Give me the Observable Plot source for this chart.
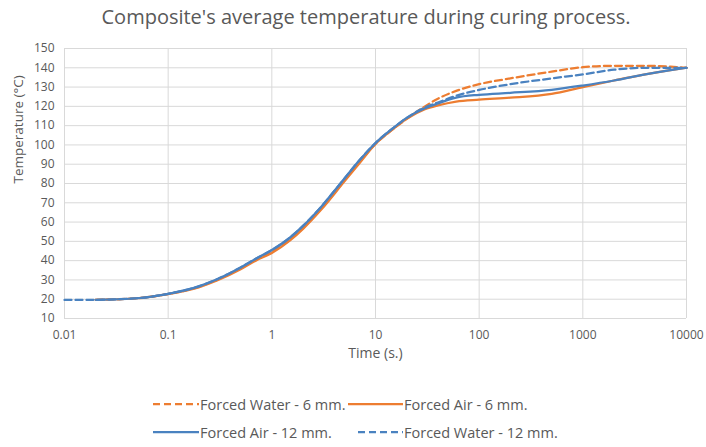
<!DOCTYPE html>
<html>
<head>
<meta charset="utf-8">
<script src="https://cdn.jsdelivr.net/npm/d3@7"></script>
<script src="https://cdn.jsdelivr.net/npm/@observablehq/plot@0.6"></script>
<style>
  body { margin: 0; background: #fff; font-family: "Open Sans", sans-serif; }
  #wrap { position: relative; width: 706px; height: 447px; overflow: hidden; }
  #title { position: absolute; top: 3px; left: 0; width: 732px; text-align: center; font-size: 20px; color: #595959; }
  #chart { position: absolute; top: 36px; left: 0; }
  .leg { position: absolute; font-size: 14.5px; color: #595959; display: flex; align-items: center; white-space: nowrap; }
  .leg svg { margin-right: 1px; }
</style>
</head>
<body>
<div id="wrap">
  <div id="title">Composite's average temperature during curing process.</div>
  <div id="chart"></div>
</div>
<script>
// ---- data ----
const time = [0.01, 0.02, 0.05, 0.1, 0.2, 0.3, 0.5, 0.7, 1, 1.5, 2, 3, 5, 7, 10, 15, 20, 30, 40, 60, 100, 200, 500, 1000, 2000, 4000, 7000, 10000];
const waterSix   = [null, 19.7, 20.5, 22.7, 26.5, 30.2, 36, 40.5, 44.5, 51, 57, 67, 81.5, 91, 100.5, 108.5, 113.5, 120, 124, 128, 131.5, 134.5, 138, 140.3, 141, 141, 140.6, 140];
const airSix     = [null, 19.7, 20.5, 22.6, 26.3, 29.8, 35.5, 40, 44, 50.5, 56.5, 66.5, 81, 90.5, 100.5, 108.5, 113.5, 118.5, 120.5, 122.5, 123.5, 124.5, 126.5, 130, 133.4, 136.6, 138.8, 140];
const airTwelve  = [null, 19.7, 20.5, 22.8, 26.8, 30.5, 36.5, 41, 45.5, 52, 58, 68, 82.5, 92, 101, 109, 114, 119, 121.5, 124.5, 126, 127, 128.6, 130.8, 133.4, 136.6, 138.8, 140];
const waterTwelve= [19.6, 19.7, 20.5, 22.8, 26.8, 30.5, 36.5, 41, 45.5, 52, 58, 68, 82.5, 92, 101, 109, 114, 119.5, 122, 125.5, 128.5, 131.5, 134.5, 136.6, 139, 140, 140, 140];
const seriesNames = ["Forced Water - 6 mm.", "Forced Air - 6 mm.", "Forced Air - 12 mm.", "Forced Water - 12 mm."];
const xTicks = [0.01, 0.1, 1, 10, 100, 1000, 10000];
const xTickLabels = ["0.01", "0.1", "1", "10", "100", "1000", "10000"];
const yTicks = [10, 20, 30, 40, 50, 60, 70, 80, 90, 100, 110, 120, 130, 140, 150];
const title = "Composite's average temperature during curing process.";
const xLabel = "Time (s.)";
const yLabel = "Temperature (°C)";

// ---- styles ----
const ORANGE = "#ED7D31";
const BLUE = "#4A82C0";
const styles = [
  {color: ORANGE, dash: "7,4"},
  {color: ORANGE, dash: null},
  {color: BLUE, dash: null},
  {color: BLUE, dash: "7,4"}
];
const valueSets = [waterSix, airSix, airTwelve, waterTwelve];

const rows = valueSets.map(vals => time.map((t, i) => ({t, T: vals[i]})).filter(d => d.T != null));

const lineMarks = rows.map((data, k) => Plot.line(data, {
  x: "t", y: "T", stroke: styles[k].color, strokeWidth: 2.25,
  strokeDasharray: styles[k].dash || undefined, curve: "monotone-x"
}));

const chart = Plot.plot({
  width: 706,
  height: 340,
  marginLeft: 64,
  marginRight: 20,
  marginTop: 12,
  marginBottom: 58,
  style: {fontFamily: "Open Sans, sans-serif", fontSize: "12px", color: "#595959", background: "#fff"},
  x: {type: "log", domain: [0.01, 10000]},
  y: {domain: [10, 150]},
  marks: [
    Plot.gridX(xTicks, {stroke: "#d9d9d9", strokeOpacity: 1, strokeWidth: 1}),
    Plot.gridY(yTicks, {stroke: "#d9d9d9", strokeOpacity: 1, strokeWidth: 1}),
    Plot.axisX(xTicks, {tickSize: 0, tickPadding: 12, tickFormat: (d) => xTickLabels[xTicks.indexOf(d)], label: null, fill: "#595959"}),
    Plot.axisY(yTicks, {tickSize: 0, tickPadding: 10, label: null, fill: "#595959"}),
    ...lineMarks,
    Plot.text([xLabel], {frameAnchor: "bottom", dy: 39, text: d => d, fontSize: 14, fill: "#595959"}),
    Plot.text([yLabel], {frameAnchor: "left", dx: -46, rotate: -90, text: d => d, fontSize: 13.5, fill: "#595959"})
  ]
});
document.getElementById("chart").appendChild(chart);

// ---- legend ----
const legendPos = [
  {x: 153, y: 404, w: 46},
  {x: 348, y: 404, w: 55},
  {x: 153, y: 432, w: 46},
  {x: 358, y: 432, w: 45}
];
const wrap = document.getElementById("wrap");
seriesNames.forEach((name, k) => {
  const p = legendPos[k];
  const div = document.createElement("div");
  div.className = "leg";
  div.style.left = p.x + "px";
  div.style.top = (p.y - 11) + "px";
  div.style.height = "22px";
  const dash = styles[k].dash ? `stroke-dasharray="${styles[k].dash}"` : "";
  div.innerHTML = `<svg width="${p.w}" height="22"><line x1="0" x2="${p.w}" y1="11" y2="11" stroke="${styles[k].color}" stroke-width="2.25" ${dash}/></svg><span>${name}</span>`;
  wrap.appendChild(div);
});
</script>
</body>
</html>
